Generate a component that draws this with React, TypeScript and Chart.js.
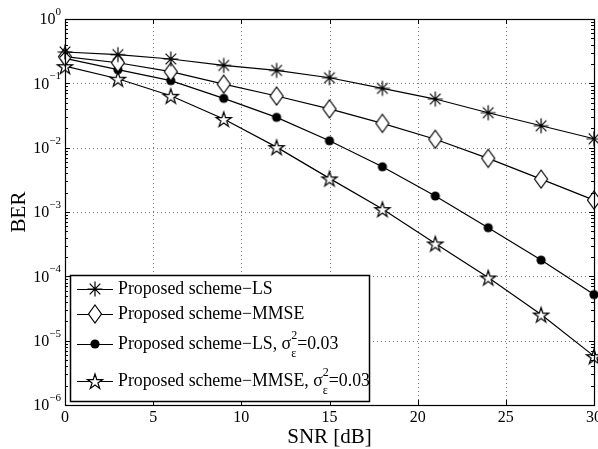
import React, { useEffect, useRef } from "react";
import { Chart, registerables } from "chart.js";

Chart.register(...registerables);

const snr = [0, 3, 6, 9, 12, 15, 18, 21, 24, 27, 30];
const berLS = [0.307, 0.279, 0.239, 0.19, 0.159, 0.122, 0.0836, 0.057, 0.0349, 0.0219, 0.01375];
const berMMSE = [0.26, 0.209, 0.152, 0.097, 0.0635, 0.04, 0.0239, 0.0135, 0.00682, 0.00325, 0.00153];
const berLSErr = [0.245, 0.163, 0.11, 0.0585, 0.0296, 0.0128, 0.00505, 0.00177, 0.00057, 0.000179, 0.000052];
const berMMSEErr = [0.185, 0.118, 0.064, 0.0279, 0.0102, 0.00333, 0.00111, 0.000324, 0.000096, 0.0000255, 0.00000575];

const xTicks = [0, 5, 10, 15, 20, 25, 30];
const yExponents = [0, -1, -2, -3, -4, -5, -6];
const legendLabels = ["Proposed scheme\u2212LS", "Proposed scheme\u2212MMSE", "Proposed scheme\u2212LS, ", "Proposed scheme\u2212MMSE, "];
const xTitle = "SNR [dB]";
const yTitle = "BER";

const FONT = "'Liberation Serif', 'Times New Roman', serif";

function makeMarker(kind: string): HTMLCanvasElement {
  const c = document.createElement("canvas");
  const s = 22;
  c.width = s;
  c.height = s;
  const g = c.getContext("2d")!;
  const cx = s / 2, cy = s / 2;
  g.strokeStyle = "#000";
  g.lineWidth = 1.2;
  g.fillStyle = "#fff";
  if (kind === "asterisk") {
    const r = 7.5;
    g.beginPath();
    for (let i = 0; i < 4; i++) {
      const a = (i * Math.PI) / 4;
      g.moveTo(cx - r * Math.cos(a), cy - r * Math.sin(a));
      g.lineTo(cx + r * Math.cos(a), cy + r * Math.sin(a));
    }
    g.stroke();
  } else if (kind === "diamond") {
    g.beginPath();
    g.moveTo(cx, cy - 9);
    g.lineTo(cx + 6.5, cy);
    g.lineTo(cx, cy + 9);
    g.lineTo(cx - 6.5, cy);
    g.closePath();
    g.fill();
    g.stroke();
  } else if (kind === "circle") {
    g.fillStyle = "#000";
    g.beginPath();
    g.arc(cx, cy, 4.6, 0, Math.PI * 2);
    g.fill();
  } else if (kind === "pentagram") {
    const R = 8, r = R * 0.382;
    g.beginPath();
    for (let i = 0; i < 10; i++) {
      const a = -Math.PI / 2 + (i * Math.PI) / 5;
      const rr = i % 2 === 0 ? R : r;
      const px = cx + rr * Math.cos(a), py = cy + 1 + rr * Math.sin(a);
      if (i === 0) g.moveTo(px, py);
      else g.lineTo(px, py);
    }
    g.closePath();
    g.fill();
    g.stroke();
  }
  return c;
}

export default function App() {
  const ref = useRef<HTMLCanvasElement>(null);
  useEffect(() => {
    const markers = ["asterisk", "diamond", "circle", "pentagram"].map(makeMarker);
    const series = [berLS, berMMSE, berLSErr, berMMSEErr];

    const axesPlugin = {
      id: "matlabAxes",
      beforeDatasetsDraw(chart: any) {
        const { ctx, chartArea: a, scales } = chart;
        const xs = scales.x, ys = scales.y;
        ctx.save();
        ctx.strokeStyle = "#777";
        ctx.lineWidth = 1;
        ctx.setLineDash([1, 3]);
        for (const t of xTicks) {
          if (t === 0 || t === 30) continue;
          const px = Math.round(xs.getPixelForValue(t)) + 0.5;
          ctx.beginPath();
          ctx.moveTo(px, a.top);
          ctx.lineTo(px, a.bottom);
          ctx.stroke();
        }
        for (const e of yExponents) {
          if (e === 0 || e === -6) continue;
          const py = Math.round(ys.getPixelForValue(Math.pow(10, e))) + 0.5;
          ctx.beginPath();
          ctx.moveTo(a.left, py);
          ctx.lineTo(a.right, py);
          ctx.stroke();
        }
        ctx.restore();
      },
      afterDraw(chart: any) {
        const { ctx, chartArea: a, scales } = chart;
        const xs = scales.x, ys = scales.y;
        ctx.save();
        ctx.strokeStyle = "#000";
        ctx.lineWidth = 1;
        // ticks
        ctx.beginPath();
        for (const t of xTicks) {
          const px = Math.round(xs.getPixelForValue(t)) + 0.5;
          ctx.moveTo(px, a.bottom);
          ctx.lineTo(px, a.bottom - 5);
          ctx.moveTo(px, a.top);
          ctx.lineTo(px, a.top + 5);
        }
        for (let e = 0; e >= -6; e--) {
          const py = Math.round(ys.getPixelForValue(Math.pow(10, e))) + 0.5;
          ctx.moveTo(a.left, py);
          ctx.lineTo(a.left + 5, py);
          ctx.moveTo(a.right, py);
          ctx.lineTo(a.right - 5, py);
          if (e > -6) {
            for (let m = 2; m <= 9; m++) {
              const pm = Math.round(ys.getPixelForValue(m * Math.pow(10, e - 1))) + 0.5;
              ctx.moveTo(a.left, pm);
              ctx.lineTo(a.left + 3, pm);
              ctx.moveTo(a.right, pm);
              ctx.lineTo(a.right - 3, pm);
            }
          }
        }
        ctx.stroke();
        // frame
        ctx.lineWidth = 1.2;
        ctx.strokeRect(Math.round(a.left) + 0.5, Math.round(a.top) + 0.5, Math.round(a.right - a.left), Math.round(a.bottom - a.top));
        // tick labels
        ctx.fillStyle = "#000";
        ctx.font = `16px ${FONT}`;
        ctx.textAlign = "center";
        ctx.textBaseline = "top";
        for (const t of xTicks) {
          ctx.fillText(String(t), xs.getPixelForValue(t), a.bottom + 5);
        }
        for (const e of yExponents) {
          const py = ys.getPixelForValue(Math.pow(10, e));
          ctx.textBaseline = "middle";
          const base = "10";
          const supTxt = e === 0 ? "0" : "\u2212" + String(-e);
          ctx.font = `11px ${FONT}`;
          const sw = ctx.measureText(supTxt).width;
          const xEnd = a.left - 4;
          ctx.textAlign = "left";
          ctx.fillText(supTxt, xEnd - sw, py - 7);
          ctx.font = `16px ${FONT}`;
          ctx.textAlign = "right";
          ctx.fillText(base, xEnd - sw, py + 1);
        }
        // axis titles
        ctx.font = `21px ${FONT}`;
        ctx.textAlign = "center";
        ctx.textBaseline = "middle";
        ctx.fillText(xTitle, (a.left + a.right) / 2, 437);
        ctx.save();
        ctx.translate(19, (a.top + a.bottom) / 2);
        ctx.rotate(-Math.PI / 2);
        ctx.fillText(yTitle, 0, 0);
        ctx.restore();
        // legend
        const L = { x: 70.5, y: 275.5, w: 299, h: 126 };
        ctx.fillStyle = "#fff";
        ctx.fillRect(L.x, L.y, L.w, L.h);
        ctx.lineWidth = 1.5;
        ctx.strokeStyle = "#000";
        ctx.strokeRect(L.x, L.y, L.w, L.h);
        const rows = [289, 314, 344, 381];
        for (let i = 0; i < 4; i++) {
          const y = rows[i];
          ctx.lineWidth = 1.2;
          ctx.beginPath();
          ctx.moveTo(77, y + 0.5);
          ctx.lineTo(113, y + 0.5);
          ctx.stroke();
          const m = markers[i];
          ctx.drawImage(m, 95 - m.width / 2, y - m.height / 2);
          ctx.fillStyle = "#000";
          ctx.font = `17.8px ${FONT}`;
          ctx.textAlign = "left";
          ctx.textBaseline = "middle";
          ctx.fillText(legendLabels[i], 118, y);
          if (i >= 2) {
            let x = 118 + ctx.measureText(legendLabels[i]).width;
            ctx.fillText("\u03c3", x, y);
            x += ctx.measureText("\u03c3").width;
            ctx.font = `12px ${FONT}`;
            ctx.fillText("2", x, y - 8);
            ctx.fillText("\u03b5", x, y + 10);
            x += ctx.measureText("2").width;
            ctx.font = `17.8px ${FONT}`;
            ctx.fillText("=0.03", x, y);
          }
        }
        ctx.restore();
      },
    };

    const chart = new Chart(ref.current!, {
      type: "line",
      data: {
        datasets: series.map((s, i) => ({
          label: legendLabels[i],
          data: snr.map((x, j) => ({ x, y: s[j] })),
          borderColor: "#000",
          borderWidth: 1.2,
          pointStyle: markers[i] as any,
          pointRadius: 8,
          fill: false,
          tension: 0,
          clip: false as any,
        })),
      },
      options: {
        animation: false,
        responsive: false,
        events: [],
        layout: { autoPadding: false, padding: { top: 19, right: 4, left: 0, bottom: 0 } },
        plugins: { legend: { display: false }, tooltip: { enabled: false } },
        scales: {
          x: {
            type: "linear",
            min: 0,
            max: 30,
            ticks: { display: false },
            grid: { display: false },
            border: { display: false },
            afterFit: (s: any) => { s.height = 44; s.paddingRight = 0; s.paddingLeft = 0; },
          },
          y: {
            type: "logarithmic",
            min: 1e-6,
            max: 1,
            ticks: { display: false },
            grid: { display: false },
            border: { display: false },
            afterFit: (s: any) => { s.width = 65; s.paddingTop = 0; s.paddingBottom = 0; },
          },
        },
      },
      plugins: [axesPlugin],
    });
    return () => chart.destroy();
  }, []);
  return (
    <div style={{ position: "fixed", left: 0, top: 0, width: 598, height: 449, background: "#fff" }}>
      <canvas ref={ref} width={598} height={449} />
    </div>
  );
}
